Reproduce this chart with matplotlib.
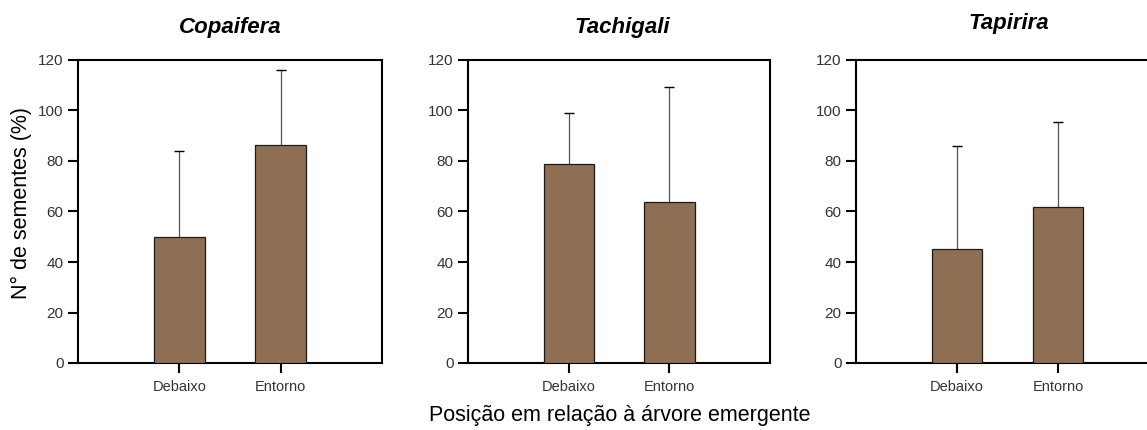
import numpy as np
import matplotlib
matplotlib.use("Agg")
from matplotlib import pyplot as plt

plt.rcParams['font.family'] = ['Liberation Sans', 'DejaVu Sans']

species = ['Copaifera', 'Tachigali', 'Tapirira']
positions = ['Debaixo', 'Entorno']
means = {
    'Copaifera': [49.8, 86.2],
    'Tachigali': [78.7, 63.9],
    'Tapirira': [45.3, 61.7],
}
upper = {
    'Copaifera': [84.0, 116.0],
    'Tachigali': [99.1, 109.2],
    'Tapirira': [85.9, 95.6],
}
yticks = [0, 20, 40, 60, 80, 100, 120]

BAR_COLOR = '#8F6F54'
W, H = 1147, 430

fig = plt.figure(figsize=(W / 100, H / 100), dpi=100)

# axes boxes in pixels (left, right); the last one runs past the figure edge
boxes = [(78, 382), (468, 770), (856, 1159)]
top_px, bot_px = 60, 363
# title centres in pixels
title_pos = [(230, 28), (622, 28), (1009, 23)]

for i, sp in enumerate(species):
    l, r = boxes[i]
    ax = fig.add_axes([l / W, 1 - bot_px / H, (r - l) / W, (bot_px - top_px) / H])
    x = np.arange(len(positions))
    m = np.array(means[sp])
    err = np.array(upper[sp]) - m
    ax.bar(x, m, width=0.5, color=BAR_COLOR, edgecolor='#1a1a1a', linewidth=0.9, zorder=3)
    # upper error only: grey stem, black cap
    ax.vlines(x, m, m + err, color='#555555', linewidth=0.9, zorder=2)
    ax.hlines(m + err, x - 0.05, x + 0.05, color='black', linewidth=1.0, zorder=2)
    ax.set_xlim(-1.0, 2.0)
    ax.set_ylim(0, 120)
    ax.set_yticks(yticks)
    ax.set_xticks(x)
    ax.set_xticklabels(positions)
    ax.tick_params(axis='both', direction='out', length=7, width=1.5, colors='black',
                   labelcolor='#333333', labelsize=11)
    ax.tick_params(axis='x', labelsize=10.5, pad=5)
    for s in ax.spines.values():
        s.set_linewidth(1.5)
    tx, ty = title_pos[i]
    fig.text(tx / W, 1 - ty / H, sp, ha='center', va='center',
             fontsize=16, fontweight='bold', fontstyle='italic')

fig.text(21 / W, 1 - 203 / H, 'N° de sementes (%)', rotation=90,
         ha='center', va='center', fontsize=15.5)
fig.text(620 / W, 1 - 416 / H, 'Posição em relação à árvore emergente',
         ha='center', va='center', fontsize=15.5)

fig.savefig('out.png', dpi=100)
